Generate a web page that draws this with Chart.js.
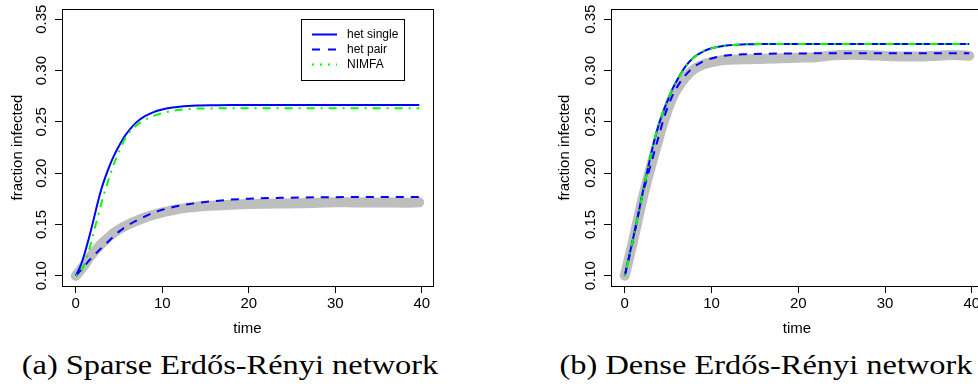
<!DOCTYPE html>
<html>
<head>
<meta charset="utf-8">
<script src="https://cdn.jsdelivr.net/npm/chart.js@4.4.1/dist/chart.umd.min.js"></script>
<style>
  html, body { margin: 0; padding: 0; background: #fff; overflow: hidden; width: 978px; height: 392px; }
  canvas { position: absolute; top: 0; }
  #chartA { left: 0; }
  #chartB { left: 489px; }
  .caption {
    position: absolute; top: 350px; white-space: nowrap;
    font-family: "Liberation Serif", "DejaVu Serif", serif; font-size: 27px; color: #000;
    transform: translateX(-50%) scaleX(1.2);
  }
</style>
</head>
<body>
<canvas id="chartA" width="489" height="340"></canvas>
<canvas id="chartB" width="500" height="340"></canvas>
<div class="caption" style="left:230px">(a) Sparse Erdős-Rényi network</div>
<div class="caption" style="left:766px">(b) Dense Erdős-Rényi network</div>

<script>
// ticks des axes
const xTicks = [0, 10, 20, 30, 40];
const yTicks = [0.10, 0.15, 0.20, 0.25, 0.30, 0.35];

// temps des courbes d'approximation
const timeModel = [0, 0.5, 1, 1.5, 2, 2.5, 3, 3.5, 4, 4.5, 5, 5.5, 6, 7, 8, 9, 10, 11, 12, 13, 14, 16, 18, 20, 24, 28, 32, 36, 39.7];
// temps de la simulation (courbe grise)
const timeSim = [0, 0.5, 1, 1.5, 2, 2.5, 3, 3.5, 4, 4.5, 5, 5.5, 6, 7, 8, 9, 10, 11, 12, 13, 14, 15, 16, 18, 20, 22, 24, 26, 28, 30, 32, 34, 36, 38, 39.7];

// (a) réseau peu dense
const hetSingleSparse = [0.100, 0.1085, 0.121, 0.136, 0.1525, 0.170, 0.1855, 0.198, 0.209, 0.2185, 0.2265, 0.234, 0.240,
  0.2495, 0.2555, 0.2595, 0.262, 0.2637, 0.2648, 0.2655, 0.2659, 0.2662, 0.2664, 0.2664, 0.2664, 0.2664, 0.2664, 0.2664, 0.2664];
const hetPairSparse = [0.100, 0.1045, 0.1095, 0.1145, 0.119, 0.1232, 0.1273, 0.1313, 0.1353, 0.1393, 0.1430, 0.1462, 0.1490,
  0.1537, 0.1578, 0.1615, 0.1643, 0.1665, 0.1683, 0.1697, 0.1709, 0.1728, 0.1742, 0.1751, 0.1760, 0.1765, 0.1767, 0.1768, 0.1768];
const nimfaSparse = [0.100, 0.1035, 0.111, 0.124, 0.140, 0.156, 0.172, 0.186, 0.199, 0.211, 0.221, 0.2305, 0.2375,
  0.2465, 0.252, 0.2558, 0.2585, 0.2605, 0.2618, 0.2625, 0.2629, 0.2631, 0.2632, 0.2632, 0.2632, 0.2632, 0.2632, 0.2632, 0.2632];
const simSparse = [0.100, 0.105, 0.1105, 0.117, 0.1222, 0.127, 0.1313, 0.1352, 0.139, 0.1423, 0.1452, 0.1476, 0.1497,
  0.1534, 0.1567, 0.1594, 0.1618, 0.1636, 0.1652, 0.1664, 0.1673, 0.1679, 0.1685, 0.1693, 0.1699, 0.1702, 0.1704, 0.1706,
  0.1711, 0.1717, 0.1715, 0.1713, 0.1715, 0.1711, 0.1716];

// (b) réseau dense
const hetSingleDense = [0.100, 0.119, 0.138, 0.158, 0.1785, 0.1985, 0.2175, 0.235, 0.2495, 0.2615, 0.2720, 0.2822, 0.2903,
  0.3040, 0.3132, 0.3184, 0.3217, 0.3235, 0.3246, 0.3252, 0.3256, 0.3259, 0.326, 0.326, 0.326, 0.326, 0.326, 0.326, 0.326];
const hetPairDense = [0.100, 0.118, 0.137, 0.157, 0.178, 0.1935, 0.2085, 0.2235, 0.2385, 0.2535, 0.2655, 0.2755, 0.2835,
  0.2955, 0.3037, 0.3088, 0.3118, 0.3138, 0.315, 0.3157, 0.316, 0.3164, 0.3166, 0.3167, 0.3168, 0.3168, 0.3168, 0.3168, 0.3168];
const nimfaDense = [0.100, 0.1185, 0.1375, 0.1575, 0.178, 0.198, 0.2175, 0.2352, 0.2498, 0.2618, 0.2722, 0.2823, 0.2903,
  0.3038, 0.3130, 0.3183, 0.3216, 0.3235, 0.3246, 0.3252, 0.3256, 0.3258, 0.3259, 0.326, 0.326, 0.326, 0.326, 0.326, 0.326];
const simDense = [0.100, 0.1175, 0.1355, 0.1545, 0.1735, 0.1905, 0.2060, 0.2215, 0.2365, 0.2505, 0.2630, 0.2735, 0.2815,
  0.2935, 0.3015, 0.3058, 0.3082, 0.3098, 0.3105, 0.3108, 0.311, 0.3112, 0.3115, 0.312, 0.3125, 0.313, 0.3148, 0.3155,
  0.315, 0.3142, 0.3138, 0.3136, 0.3145, 0.3152, 0.3145];

const seriesNames = ['het single', 'het pair', 'NIMFA'];
const FONT = '"Liberation Sans", Arial, sans-serif';

function pts(t, v) {
  return t.map((x, i) => ({ x: x, y: v[i] }));
}

function makeDatasets(single, pair, nimfa, sim) {
  return [
    { label: seriesNames[0], data: pts(timeModel, single), borderColor: '#0000ff', borderWidth: 2, order: 3 },
    { label: seriesNames[1], data: pts(timeModel, pair), borderColor: '#0000ff', borderWidth: 2, borderDash: [8, 7], order: 2 },
    { label: seriesNames[2], data: pts(timeModel, nimfa), borderColor: '#00ff00', borderWidth: 2, borderDash: [2, 6, 8, 6], order: 1 },
    { label: 'simulation', data: pts(timeSim, sim), borderColor: '#bebebe', borderWidth: 10,
      borderCapStyle: 'round', borderJoinStyle: 'round', order: 4 }
  ];
}

// cadre du graphique + étiquettes verticales de l'axe y (style R)
const rFrame = {
  id: 'rFrame',
  afterDraw(chart) {
    const ctx = chart.ctx;
    const a = chart.chartArea;
    const y = chart.scales.y;
    const al = v => Math.round(v - 0.5) + 0.5;
    ctx.save();
    ctx.strokeStyle = '#000';
    ctx.lineWidth = 1;
    ctx.setLineDash([]);
    ctx.strokeRect(al(a.left), al(a.top), al(a.right) - al(a.left), al(a.bottom) - al(a.top));
    ctx.fillStyle = '#000';
    ctx.font = '15px ' + FONT;
    ctx.textAlign = 'center';
    ctx.textBaseline = 'middle';
    yTicks.forEach(v => {
      ctx.save();
      ctx.translate(a.left - 20.5, y.getPixelForValue(v));
      ctx.rotate(-Math.PI / 2);
      ctx.fillText(v.toFixed(2), 0, 0);
      ctx.restore();
    });
    ctx.restore();
  }
};

// légende dans le coin (seulement pour le graphique a)
const rLegend = {
  id: 'rLegend',
  afterDraw(chart) {
    const ctx = chart.ctx;
    ctx.save();
    ctx.strokeStyle = '#000';
    ctx.lineWidth = 1;
    ctx.strokeRect(301.5, 19.5, 103, 61);
    ctx.font = '12px ' + FONT;
    ctx.fillStyle = '#000';
    ctx.textBaseline = 'middle';
    const dashes = [[], [8, 8], [2, 6]];
    chart.data.datasets.slice(0, 3).forEach((ds, i) => {
      const yy = 34.5 + i * 15;
      ctx.strokeStyle = ds.borderColor;
      ctx.lineWidth = 2;
      ctx.setLineDash(dashes[i]);
      ctx.beginPath();
      ctx.moveTo(312, yy);
      ctx.lineTo(337, yy);
      ctx.stroke();
      ctx.fillText(ds.label, 347, yy + 0.5);
    });
    ctx.restore();
  }
};

function makeChart(id, datasets, yWidth, padRight, yTitlePad, extraPlugins) {
  return new Chart(document.getElementById(id), {
    type: 'line',
    data: { datasets: datasets },
    options: {
      responsive: false,
      animation: false,
      layout: { autoPadding: false, padding: { left: 0, right: padRight, top: 9, bottom: 0 } },
      elements: { point: { radius: 0 }, line: { cubicInterpolationMode: 'monotone' } },
      plugins: { legend: { display: false }, tooltip: { enabled: false } },
      scales: {
        x: {
          type: 'linear', min: -1.59, max: 41.29,
          afterBuildTicks: s => { s.ticks = xTicks.map(v => ({ value: v })); },
          afterFit: s => { s.height = 54; s.paddingLeft = 0; s.paddingRight = 0; },
          grid: { drawOnChartArea: false, drawTicks: true, tickLength: 7, color: '#000' },
          border: { display: true, color: '#000' },
          ticks: { color: '#000', padding: 2, font: { family: FONT, size: 15 }, maxRotation: 0 },
          title: { display: true, text: 'time', color: '#000', font: { family: FONT, size: 15 }, padding: { top: 0, bottom: 2 } }
        },
        y: {
          type: 'linear', min: 0.09, max: 0.36,
          afterBuildTicks: s => { s.ticks = yTicks.map(v => ({ value: v })); },
          afterFit: s => { s.width = yWidth; s.paddingTop = 0; s.paddingBottom = 0; },
          grid: { drawOnChartArea: false, drawTicks: true, tickLength: 7, color: '#000' },
          border: { display: true, color: '#000' },
          ticks: { display: false },
          title: { display: true, text: 'fraction infected', color: '#000', font: { family: FONT, size: 15 }, padding: { top: yTitlePad, bottom: 0 } }
        }
      }
    },
    plugins: [rFrame].concat(extraPlugins)
  });
}

makeChart('chartA', makeDatasets(hetSingleSparse, hetPairSparse, nimfaSparse, simSparse), 62, 56, 8.5, [rLegend]);
makeChart('chartB', makeDatasets(hetSingleDense, hetPairDense, nimfaDense, simDense), 122, 6, 67, []);
</script>
</body>
</html>
